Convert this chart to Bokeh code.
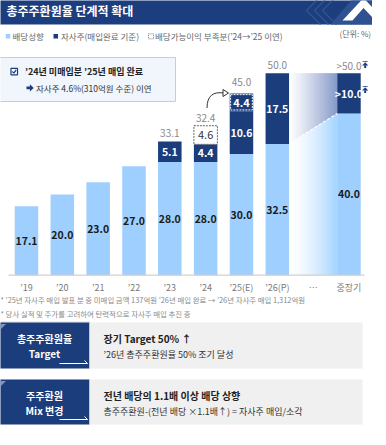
import math
from bokeh.plotting import figure
from bokeh.models import Range1d, ColumnDataSource
from bokeh.core.properties import value
from bokeh.embed import file_html
from bokeh.resources import INLINE

# ---------------- data ----------------
categories = ["’19", "’20", "’21", "’22", "’23", "’24", "’25(E)", "’26(P)", "…", "중장기"]
dividend = [17.1, 20.0, 23.0, 27.0, 28.0, 28.0, 30.0, 32.5, None, 40.0]
buyback = [None, None, None, None, 5.1, 4.4, 10.6, 17.5, None, 10.0]
buyback_labels = ["", "", "", "", "5.1", "4.4", "10.6", "17.5", "", ">10.0"]
deferred = [None, None, None, None, None, 4.6, None, None, None, None]   # '24 unbought (dashed)
carried = [None, None, None, None, None, None, 4.4, None, None, None]    # bought in '25
total_labels = ["", "", "", "", "33.1", "32.4", "45.0", "50.0", "", ">50.0"]

NAVY = "#1b3d7b"
LIGHT = "#9ecfff"
KR = value("Noto Sans CJK KR")

p = figure(width=372, height=429, x_range=Range1d(8, 380), y_range=Range1d(437, 8),
           output_backend="svg", toolbar_location=None, min_border=0,
           x_axis_location=None, y_axis_location=None)
p.grid.visible = False
p.outline_line_color = None
p.background_fill_color = "white"
p.border_fill_color = "white"
p.extra_x_ranges = {"cat": Range1d(-0.7257, 9.657)}
p.extra_y_ranges = {"pct": Range1d(-38.19, 68.0)}
D = dict(x_range_name="cat", y_range_name="pct")
BW = 0.656


def txt(x, y, s, size, color, bold=False, align="left", **kw):
    p.text(x=[x], y=[y], text=[s], text_font=KR, text_font_size=f"{size}px",
           text_font_style="bold" if bold else "normal", text_color=color,
           text_align=align, text_baseline="middle", **kw)


# ---------------- title bar ----------------
p.quad(left=6, right=381, top=4, bottom=32, fill_color="#1d3e7e", line_color=None)
for x0 in (314, 322, 330):
    p.line([x0 + 14, x0, x0 + 14], [4, 18, 32], line_color="#34558f", line_width=1.2)
p.patch([338, 362, 381, 381], [32, 4, 4, 32], fill_color="#2f5192", line_color=None)
p.patch([350, 371, 381, 381, 371, 360], [28, 5.5, 16, 26, 15.5, 28],
        fill_color="white", line_color=None)
txt(14, 18, "총주주환원율 단계적 확대", 12, "white", bold=True)

# ---------------- legend ----------------
p.quad(left=13.3, right=17.8, top=41.5, bottom=46, fill_color=LIGHT, line_color=None)
txt(20, 43.7, "배당성향", 8.5, "#666666")
p.quad(left=61, right=65.5, top=41.5, bottom=46, fill_color=NAVY, line_color=None)
txt(68.5, 43.7, "자사주(매입완료 기준)", 8.5, "#666666")
p.quad(left=156, right=161, top=41.3, bottom=46.3, fill_color="white",
       line_color="#777777", line_dash="1 1", line_width=1)
txt(162.5, 43.7, "배당가능이익 부족분(’24→’25 이연)", 8.5, "#666666")
txt(378.5, 41, "(단위: %)", 8, "#666666", align="right")

# ---------------- callout box ----------------
p.quad(left=6, right=183, top=65, bottom=109, fill_color="#f1f5fc", line_color="#c2cde3", line_width=1)
p.quad(left=18.5, right=25, top=75.8, bottom=82.3, fill_color="white", line_color=NAVY, line_width=1.2)
p.line([19.9, 21.4, 23.7], [79, 80.6, 77.4], line_color=NAVY, line_width=1.2)
txt(32.5, 78.8, "’24년 미매입분 ’25년 매입 완료", 9, "#222222", bold=True)
p.patch([34, 37.4, 37.4, 41.2, 37.4, 37.4, 34], [94.1, 94.1, 91.8, 95.4, 99, 96.7, 96.7],
        fill_color=NAVY, line_color=None)
txt(43.5, 95.8, "자사주 4.6%(310억원 수준) 이연", 8.5, "#333333")

# ---------------- chart ----------------
n = len(categories)
idx = [i for i in range(n) if dividend[i] is not None]
base2 = {i: dividend[i] + (buyback[i] or 0) for i in idx}
stack_top = {i: base2[i] + (deferred[i] or 0) + (carried[i] or 0) for i in idx}

# gradient transition between '26(P) and 중장기
def mix(c, t):
    r, g, b = int(c[1:3], 16), int(c[3:5], 16), int(c[5:7], 16)
    return "#%02x%02x%02x" % (round(255 + (r - 255) * t), round(255 + (g - 255) * t), round(255 + (b - 255) * t))

i0, i1 = 7, 9
gx0, gx1 = i0 + BW / 2, i1 - BW / 2
ylo0, ylo1 = dividend[i0], dividend[i1]
ytop = stack_top[i0]
N = 40
xs_u, ys_u, c_u, xs_l, ys_l, c_l = [], [], [], [], [], []
for k in range(N):
    ta, tb = k / N, min(1.0, (k + 1.6) / N)
    xa, xb = gx0 + (gx1 - gx0) * ta, gx0 + (gx1 - gx0) * tb
    ma, mb = ylo0 + (ylo1 - ylo0) * ta, ylo0 + (ylo1 - ylo0) * tb
    t = (k + 0.5) / N
    xs_u.append([xa, xb, xb, xa]); ys_u.append([ma, mb, ytop, ytop]); c_u.append(mix("#8599c8", t ** 1.15))
    xs_l.append([xa, xb, xb, xa]); ys_l.append([0, 0, mb, ma]); c_l.append(mix("#a4d4ff", t ** 1.5))
p.patches(xs_u, ys_u, fill_color=c_u, line_color=None, **D)
p.patches(xs_l, ys_l, fill_color=c_l, line_color=None, **D)
p.line([gx0, gx1], [ylo0, ylo1], line_color="white", line_dash="3 2", line_width=1.2, **D)

# dividend bars
dsrc = ColumnDataSource(dict(x=idx, top=[dividend[i] for i in idx],
                             mid=[dividend[i] / 2 for i in idx],
                             lab=[f"{dividend[i]:.1f}" for i in idx]))
p.vbar(x="x", bottom=0, top="top", width=BW, source=dsrc, fill_color=LIGHT, line_color=None, **D)
p.text(x="x", y="mid", text="lab", source=dsrc, text_font=KR, text_font_size="10.5px",
       text_font_style="bold", text_color="#1b1b1b", text_align="center", text_baseline="middle", **D)

# buyback bars
bi = [i for i in range(n) if buyback[i] is not None]
bsrc = ColumnDataSource(dict(x=bi, bottom=[dividend[i] for i in bi], top=[base2[i] for i in bi],
                             mid=[dividend[i] + buyback[i] / 2 for i in bi],
                             lab=[buyback_labels[i] for i in bi]))
p.vbar(x="x", bottom="bottom", top="top", width=BW, source=bsrc, fill_color=NAVY, line_color=None, **D)
p.text(x="x", y="mid", text="lab", source=bsrc, text_font=KR, text_font_size="10.5px",
       text_font_style="bold", text_color="white", text_align="center", text_baseline="middle", **D)

# deferred ('24, not yet bought) dashed box
di = [i for i in range(n) if deferred[i] is not None]
fsrc = ColumnDataSource(dict(x=di, bottom=[base2[i] for i in di], top=[base2[i] + deferred[i] for i in di],
                             mid=[base2[i] + deferred[i] / 2 for i in di],
                             lab=[f"{deferred[i]:.1f}" for i in di]))
p.vbar(x="x", bottom="bottom", top="top", width=BW, source=fsrc, fill_color="white",
       line_color="#666666", line_dash="2 1", line_width=1, **D)
p.text(x="x", y="mid", text="lab", source=fsrc, text_font=KR, text_font_size="11px",
       text_color="#333333", text_align="center", text_baseline="middle", **D)

# carried ('25 bought) segment
ci = [i for i in range(n) if carried[i] is not None]
csrc = ColumnDataSource(dict(x=ci, bottom=[base2[i] for i in ci], top=[base2[i] + carried[i] for i in ci],
                             ib=[base2[i] + 0.3 for i in ci], it=[base2[i] + carried[i] - 0.3 for i in ci],
                             mid=[base2[i] + carried[i] / 2 for i in ci],
                             lab=[f"{carried[i]:.1f}" for i in ci]))
p.vbar(x="x", bottom="bottom", top="top", width=BW, source=csrc, fill_color=NAVY, line_color=None, **D)
p.vbar(x="x", bottom="ib", top="it", width=BW - 0.05, source=csrc, fill_color=None,
       line_color="white", line_dash="2 1", line_width=1, **D)
p.text(x="x", y="mid", text="lab", source=csrc, text_font=KR, text_font_size="11px",
       text_font_style="bold", text_color="white", text_align="center", text_baseline="middle", **D)

# totals
ti = [i for i in range(n) if total_labels[i]]
tsrc = ColumnDataSource(dict(x=ti, y=[stack_top[i] for i in ti], lab=[total_labels[i] for i in ti],
                             off=[-11 if carried[i] else -8 for i in ti]))
p.text(x="x", y="y", text="lab", source=tsrc, text_font=KR, text_font_size="10px",
       text_color="#8a8a8a", text_align="center", text_baseline="middle", y_offset="off", **D)

# up arrows next to 중장기
for yc in (72, 97):
    p.quad(left=370.2, right=375.2, top=yc - 3.6, bottom=yc - 2.7, fill_color=NAVY, line_color=None)
    p.patch([369.6, 372.7, 375.8], [yc + 1, yc - 2.2, yc + 1], fill_color=NAVY, line_color=None)
    p.quad(left=371.7, right=373.7, top=yc + 0.8, bottom=yc + 3.6, fill_color=NAVY, line_color=None)

# curved arrow '24 -> '25
p.bezier(x0=[214.5], y0=[115.5], x1=[231], y1=[100.5], cx0=[214.5], cy0=[103],
         cx1=[221], cy1=[99], line_color="#333333", line_width=1)
p.patch([236, 230.5, 230.5], [100.5, 97, 104], fill_color="white", line_color="#333333", line_width=1)

# baseline & category labels
p.segment(x0=[16], x1=[372], y0=[0], y1=[0], line_color="#d0d0d0", line_width=1.2, y_range_name="pct")
p.text(x=list(range(n)), y=[0] * n, text=categories, text_font=KR, text_font_size="9px",
       text_color="#7a7a7a", text_align="center", text_baseline="middle", y_offset=11.8, **D)

# ---------------- notes ----------------
txt(8, 306.8, "* ’25년 자사주 매입 발표 분 중 미매입 금액 137억원 ’26년 매입 완료 → ’26년 자사주 매입 1,312억원",
    7.4, "#8a8a8a")
txt(8, 320.6, "* 당사 실적 및 주가를 고려하여 탄력적으로 자사주 매입 추진 중", 7.4, "#8a8a8a")
p.segment(x0=[6], x1=[98], y0=[329.5], y1=[329.5], line_color="#dddddd", line_width=1)

# ---------------- bottom boxes ----------------
boxes = [
    (330, 376, "총주주환원율", "Target", "장기 Target 50% ↑", "’26년  총주주환원율 50% 조기 달성"),
    (387, 432, "주주환원", "Mix 변경", "전년 배당의 1.1배 이상 배당 상향", "총주주환원-(전년 배당 ×1.1배↑) = 자사주 매입/소각"),
]
for top, bot, l1, l2, r1, r2 in boxes:
    p.quad(left=6, right=97, top=top, bottom=bot, fill_color=NAVY, line_color=None)
    p.quad(left=97, right=370, top=top, bottom=bot, fill_color="#f0f0f0", line_color=None)
    p.patch([8, 13.5, 8], [top + 1.5, top + 1.5, top + 7], fill_color="#7d93c2", line_color=None)
    p.line([67, 95], [bot - 5, bot - 5], line_color="white", line_width=1)
    p.line([92, 95], [bot - 8, bot - 5], line_color="white", line_width=1)
    txt(52, top + 15.5, l1, 10, "white", bold=True, align="center")
    txt(52, top + 31, l2, 10, "white", bold=True, align="center")
    txt(111, top + 15.5, r1, 10, "#222222", bold=True)
    txt(111, top + 31.5, r2, 9, "#333333")

open("out.html", "w").write(file_html(p, INLINE))
